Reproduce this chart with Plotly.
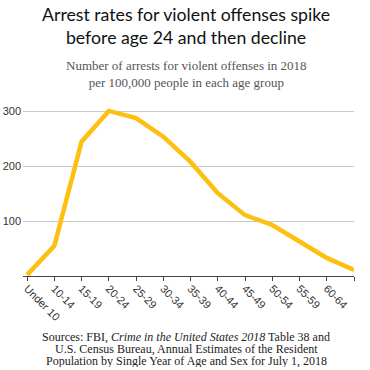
import plotly.graph_objects as go

age_groups = ["Under 10", "10-14", "15-19", "20-24", "25-29", "30-34", "35-39",
              "40-44", "45-49", "50-54", "55-59", "60-64", "65+"]
arrest_rates = [2, 55, 245, 301, 288, 254, 208, 151, 111, 93, 63, 33, 11]
y_ticks = [100, 200, 300]

W, H = 370, 370
M_T, M_B, M_L, M_R = 106, 94, 23, 16
plot_h = H - M_T - M_B
CX = (186 - M_L) / (W - M_L - M_R)

def py(pix):
    return (H - M_B - pix) / plot_h

source_lines = [
    "Sources: FBI, <i>Crime in the United States 2018</i> Table 38 and",
    "U.S. Census Bureau, Annual Estimates of the Resident",
    "Population by Single Year of Age and Sex for July 1, 2018",
]
source_y = [336.5, 348.5, 360.5]

fig = go.Figure()
fig.add_trace(go.Scatter(
    x=list(range(len(age_groups))), y=arrest_rates, mode="lines",
    line=dict(color="#FDC010", width=4.5), hoverinfo="skip"))

annotations = [
    dict(text="Arrest rates for violent offenses spike<br>before age 24 and then decline",
         xref="paper", yref="paper", x=CX, y=py(26),
         xanchor="center", yanchor="middle", showarrow=False,
         font=dict(family="Lato", size=17.7, color="#111")),
    dict(text="Number of arrests for violent offenses in 2018<br>per 100,000 people in each age group",
         xref="paper", yref="paper", x=CX, y=py(73.5),
         xanchor="center", yanchor="middle", showarrow=False,
         font=dict(family="Liberation Serif", size=13, color="#555")),
]
for line, yp in zip(source_lines, source_y):
    annotations.append(dict(text=line, xref="paper", yref="paper", x=CX, y=py(yp),
                            xanchor="center", yanchor="middle", showarrow=False,
                            height=12, borderpad=0,
                            font=dict(family="Liberation Serif", size=12, color="#222")))

fig.update_layout(
    width=W, height=H, margin=dict(t=M_T, b=M_B, l=M_L, r=M_R, autoexpand=False),
    paper_bgcolor="white", plot_bgcolor="white", showlegend=False,
    xaxis=dict(range=[-0.15, 12], tickvals=list(range(len(age_groups))),
               ticktext=age_groups, tickangle=45, showgrid=False, zeroline=False,
               showline=True, linecolor="#444", linewidth=1, ticks="outside",
               ticklen=4, tickcolor="#444", automargin=False,
               ticklabelstandoff=-3,
               tickfont=dict(family="Liberation Sans", size=11, color="#333")),
    yaxis=dict(range=[0, 310], tickvals=y_ticks, showgrid=True, gridcolor="#c8c8c8",
               gridwidth=1, zeroline=False, showline=False, ticks="",
               ticklabelstandoff=1, automargin=False,
               tickfont=dict(family="Liberation Sans", size=11, color="#333")),
    annotations=annotations,
)

fig.write_html("out.html", config={"displayModeBar": False},
               post_script="document.body.style.margin='0';")
